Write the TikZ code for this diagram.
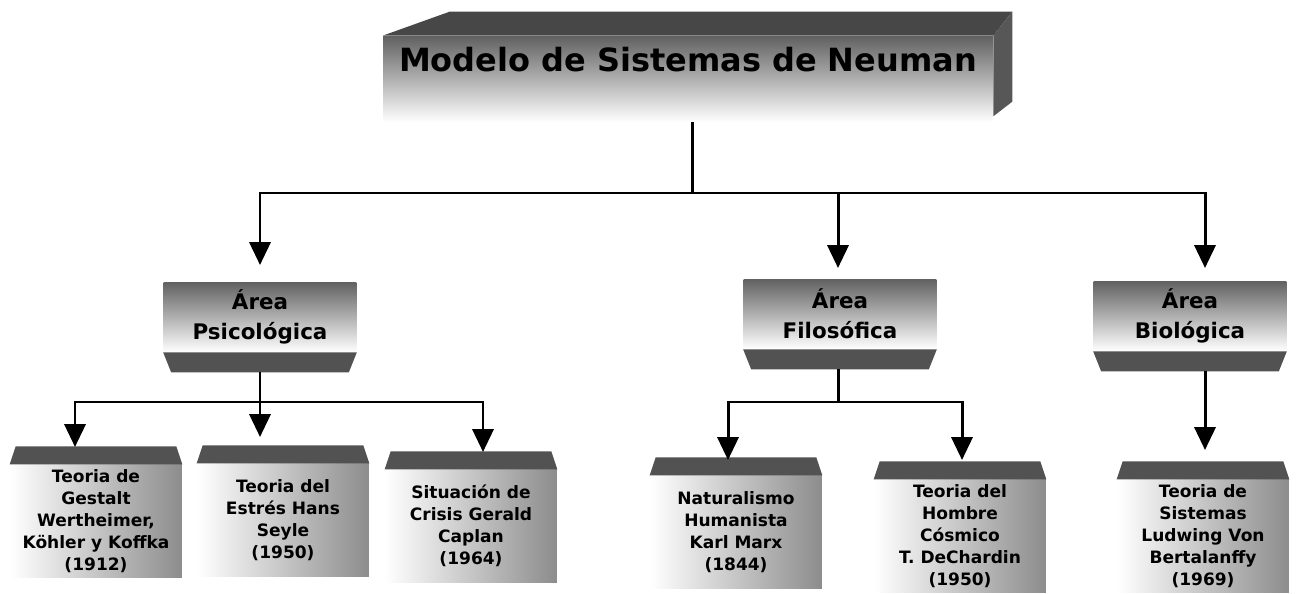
\documentclass[tikz,border=0pt]{standalone}
\usepackage{fontspec}
\setmainfont{DejaVu Sans}
\usetikzlibrary{positioning,arrows.meta}

\tikzset{
  capface/.style={fill=black!68},
  titlebox/.style={minimum width=12.2cm,minimum height=1.72cm,inner sep=0pt,top color=black!62,bottom color=white},
  titlefont/.style={font=\fontsize{18.2}{20}\selectfont\bfseries},
  areabox/.style={minimum width=3.86cm,minimum height=1.4cm,inner sep=0pt,align=center,top color=black!62,bottom color=white,font=\fontsize{12.2}{17}\selectfont\bfseries},
  leafbox/.style={minimum width=3.44cm,minimum height=2.25cm,inner sep=0pt,align=center,left color=white,right color=black!45,font=\fontsize{9.7}{12.5}\selectfont\bfseries},
  conn/.style={line width=1.7pt},
  arr/.style={conn,-{Triangle[width=12pt,length=13pt]}}
}

\begin{document}
\begin{tikzpicture}[x=0.02cm,y=-0.02cm]
  \useasboundingbox (0,0) rectangle (1298,594);
  % title block
  \node [titlebox] (title) at (688,79) {};
  \fill [black!72] (title.north west) -- ([shift={(67,-24)}]title.north west) -- ([shift={(19,-24)}]title.north east) -- (title.north east) -- cycle;
  \fill [black!66] (title.north east) -- ++(19,-24) -- ++(0,90) -- ([shift={(0,-6)}]title.south east) -- cycle;
  \node [titlefont] (titletext) at (688,60) {Modelo de Sistemas de Neuman};
  % areas
  \node [areabox] (psico) at (260,317) {Área\\Psicológica};
  \node [areabox] (filo) at (840,314) {Área\\Filosófica};
  \node [areabox] (bio) at (1190,316) {Área\\Biológica};
  \foreach \b in {psico,filo,bio}
    \fill [capface] (\b.south west) -- (\b.south east) -- ([shift={(-8,20)}]\b.south east) -- ([shift={(8,20)}]\b.south west) coordinate (\b-base) -- cycle;
  % authors
  \node [leafbox] (gestalt) at (96,521) {Teoria de\\Gestalt\\Wertheimer,\\Köhler y Koffka\\(1912)};
  \node [leafbox] (estres) at (283,520) {Teoria del\\Estrés Hans\\Seyle\\(1950)};
  \node [leafbox] (crisis) at (471,526) {Situación de\\Crisis Gerald\\Caplan\\(1964)};
  \node [leafbox] (marx) at (736,532) {Naturalismo\\Humanista\\Karl Marx\\(1844)};
  \node [leafbox] (chardin) at (960,536) {Teoria del\\Hombre\\Cósmico\\T. DeChardin\\(1950)};
  \node [leafbox] (sistemas) at (1203,536) {Teoria de\\Sistemas\\Ludwing Von\\Bertalanffy\\(1969)};
  \foreach \b in {gestalt,estres,crisis,marx,chardin,sistemas}
    \fill [capface] (\b.north west) -- ([shift={(6,-18)}]\b.north west) -- ([shift={(-6,-18)}]\b.north east) -- (\b.north east) -- cycle;
  % connectors
  \coordinate (hub) at (692,193);
  \coordinate (psico in) at (260,265);   \coordinate (filo in) at (838,268);   \coordinate (bio in) at (1205,268);
  \coordinate (psico hub) at (260,402);  \coordinate (filo hub) at (838,402);
  \coordinate (gestalt in) at (75,447);  \coordinate (estres in) at (260,437); \coordinate (crisis in) at (483,452);
  \coordinate (marx in) at (728,460);    \coordinate (chardin in) at (962,460);\coordinate (sistemas in) at (1205,450);
  \draw [conn] (title.south -| hub) -- (hub);
  \draw [arr] (hub) -| (psico in);
  \draw [arr] (hub) -| (filo in);
  \draw [arr] (hub) -| (bio in);
  \draw [conn] (psico hub |- psico-base) -- (psico hub);
  \draw [arr] (psico hub) -| (gestalt in);
  \draw [arr] (psico hub) -- (estres in);
  \draw [arr] (psico hub) -| (crisis in);
  \draw [conn] (filo hub |- filo-base) -- (filo hub);
  \draw [arr] (filo hub) -| (marx in);
  \draw [arr] (filo hub) -| (chardin in);
  \draw [arr] (sistemas in |- bio-base) -- (sistemas in);
\end{tikzpicture}
\end{document}
